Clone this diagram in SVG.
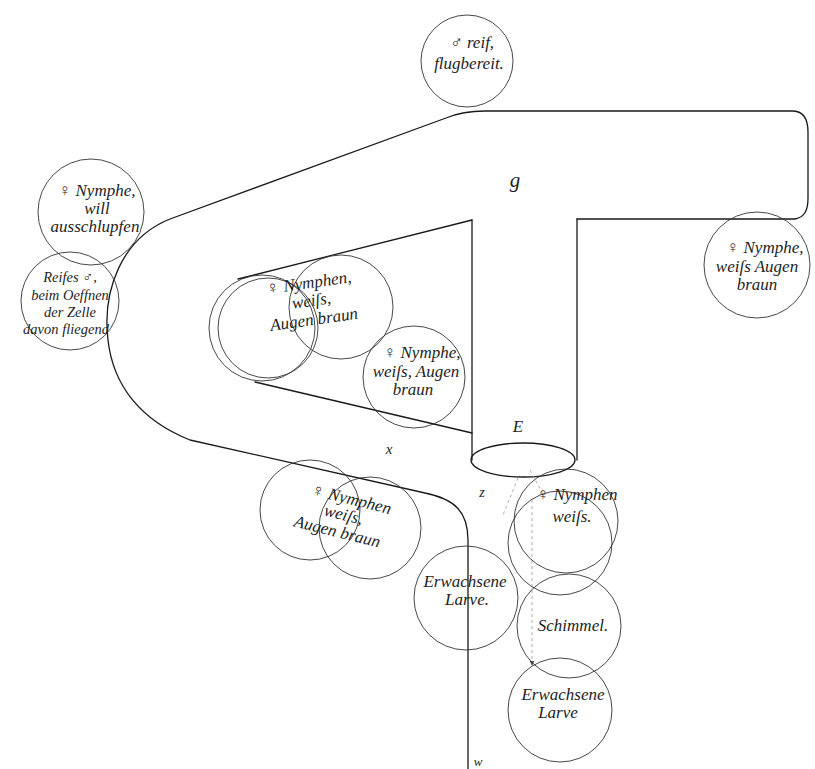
<svg xmlns="http://www.w3.org/2000/svg" width="815" height="769" viewBox="0 0 815 769">
<style>
.bg{fill:#ffffff}
.wall{fill:none;stroke:#1a1a1a;stroke-width:1.3;stroke-linecap:round;stroke-linejoin:round}
.cell{fill:none;stroke:#333;stroke-width:0.9}
.faint{fill:none;stroke:#999;stroke-width:0.8;stroke-dasharray:3 3}
.t{font-family:'Liberation Serif','DejaVu Serif',serif;font-style:italic;font-size:17px;fill:#1e1e1e;text-anchor:middle}
.s{font-size:14.5px}
.lbl{font-family:'Liberation Serif','DejaVu Serif',serif;font-style:italic;font-size:17px;fill:#1e1e1e;text-anchor:middle}
</style>
<defs>
<marker id="ah" viewBox="0 0 6 6" refX="5" refY="3" markerWidth="6" markerHeight="6" orient="auto"><path d="M0,0 L6,3 L0,6 z" fill="#555"/></marker>
</defs>
<rect class="bg" x="0" y="0" width="815" height="769"/>
<g id="connectors">
<path class="wall" d="M 577,219 L 795,219 C 805,217 808,210 808,198 L 808,132 C 808,118 802,111 792,111 L 485,111 C 468,111 458,113 446,118 L 170,219 C 122,238 102,290 108,340 C 113,385 140,420 190,440 L 425,493 C 455,499 468,512 468,540 L 468,769"/>
<path class="wall" d="M 577,219 L 577,460"/>
<path class="wall" d="M 472,220 L 472,460"/>
<path class="wall" d="M 472,220 L 238,279"/>
<path class="wall" d="M 255,382 L 472,433"/>
<ellipse class="wall" cx="523" cy="460" rx="52" ry="17"/>
<path class="faint" d="M 518,478 L 503,515"/>
<path class="faint" d="M 530,470 L 545,498"/>
<path class="faint" d="M 532,500 L 532,665" marker-end="url(#ah)"/>
</g>
<g id="n-reif">
<circle class="cell" cx="467" cy="61" r="46"/>
<text class="t" x="472" y="48">♂ reif,</text>
<text class="t" x="469" y="69">flugbereit.</text>
</g>
<g id="n-ausschlupfen">
<circle class="cell" cx="91" cy="212" r="53"/>
<text class="t" x="97" y="196">♀ Nymphe,</text>
<text class="t" x="97" y="214">will</text>
<text class="t" x="95" y="232">ausschlupfen</text>
</g>
<g id="n-reifes">
<circle class="cell" cx="70" cy="301" r="49"/>
<text class="t s" x="70" y="282">Reifes ♂,</text>
<text class="t s" x="70" y="300">beim Oeffnen</text>
<text class="t s" x="70" y="317">der Zelle</text>
<text class="t s" x="66" y="334">davon fliegend</text>
</g>
<g id="n-nymphen-left">
<circle class="cell" cx="262" cy="328" r="53"/>
<circle class="cell" cx="268" cy="328" r="50"/>
<circle class="cell" cx="341" cy="307" r="52"/>
<g transform="rotate(-8 312 305)">
<text class="t" x="312" y="288">♀ Nymphen,</text>
<text class="t" x="312" y="306">weiſs,</text>
<text class="t" x="312" y="325">Augen braun</text>
</g>
</g>
<g id="n-nymphe-mid">
<circle class="cell" cx="414" cy="377" r="51"/>
<text class="t" x="422" y="358">♀ Nymphe,</text>
<text class="t" x="416" y="377">weiſs, Augen</text>
<text class="t" x="413" y="395">braun</text>
</g>
<g id="n-nymphen-bottom">
<circle class="cell" cx="310" cy="510" r="50"/>
<circle class="cell" cx="370" cy="528" r="51"/>
<g transform="rotate(14 343 517)">
<text class="t" x="347" y="503">♀ Nymphen</text>
<text class="t" x="343" y="520">weiſs,</text>
<text class="t" x="341" y="538">Augen braun</text>
</g>
</g>
<g id="n-larve-1">
<circle class="cell" cx="466" cy="598" r="52"/>
<text class="t" x="465" y="587">Erwachsene</text>
<text class="t" x="467" y="605">Larve.</text>
</g>
<g id="n-nymphen-right">
<circle class="cell" cx="566" cy="521" r="52"/>
<circle class="cell" cx="560" cy="543" r="52"/>
<text class="t" x="577" y="500">♀ Nymphen</text>
<text class="t" x="572" y="522">weiſs.</text>
</g>
<g id="n-schimmel">
<circle class="cell" cx="569" cy="626" r="52"/>
<text class="t" x="573" y="631">Schimmel.</text>
</g>
<g id="n-larve-2">
<circle class="cell" cx="560" cy="710" r="52"/>
<text class="t" x="563" y="700">Erwachsene</text>
<text class="t" x="558" y="718">Larve</text>
</g>
<g id="n-nymphe-right">
<circle class="cell" cx="757" cy="265" r="53"/>
<text class="t" x="765" y="253">♀ Nymphe,</text>
<text class="t" x="757" y="272">weiſs Augen</text>
<text class="t" x="757" y="290">braun</text>
</g>
<g id="labels">
<text class="lbl" x="515" y="187" style="font-size:21px">g</text>
<text class="lbl" x="518" y="432">E</text>
<text class="lbl" x="389" y="454" style="font-size:15px">x</text>
<text class="lbl" x="482" y="497" style="font-size:14px">z</text>
<text class="lbl" x="478" y="766" style="font-size:13px">w</text>
</g>
</svg>
